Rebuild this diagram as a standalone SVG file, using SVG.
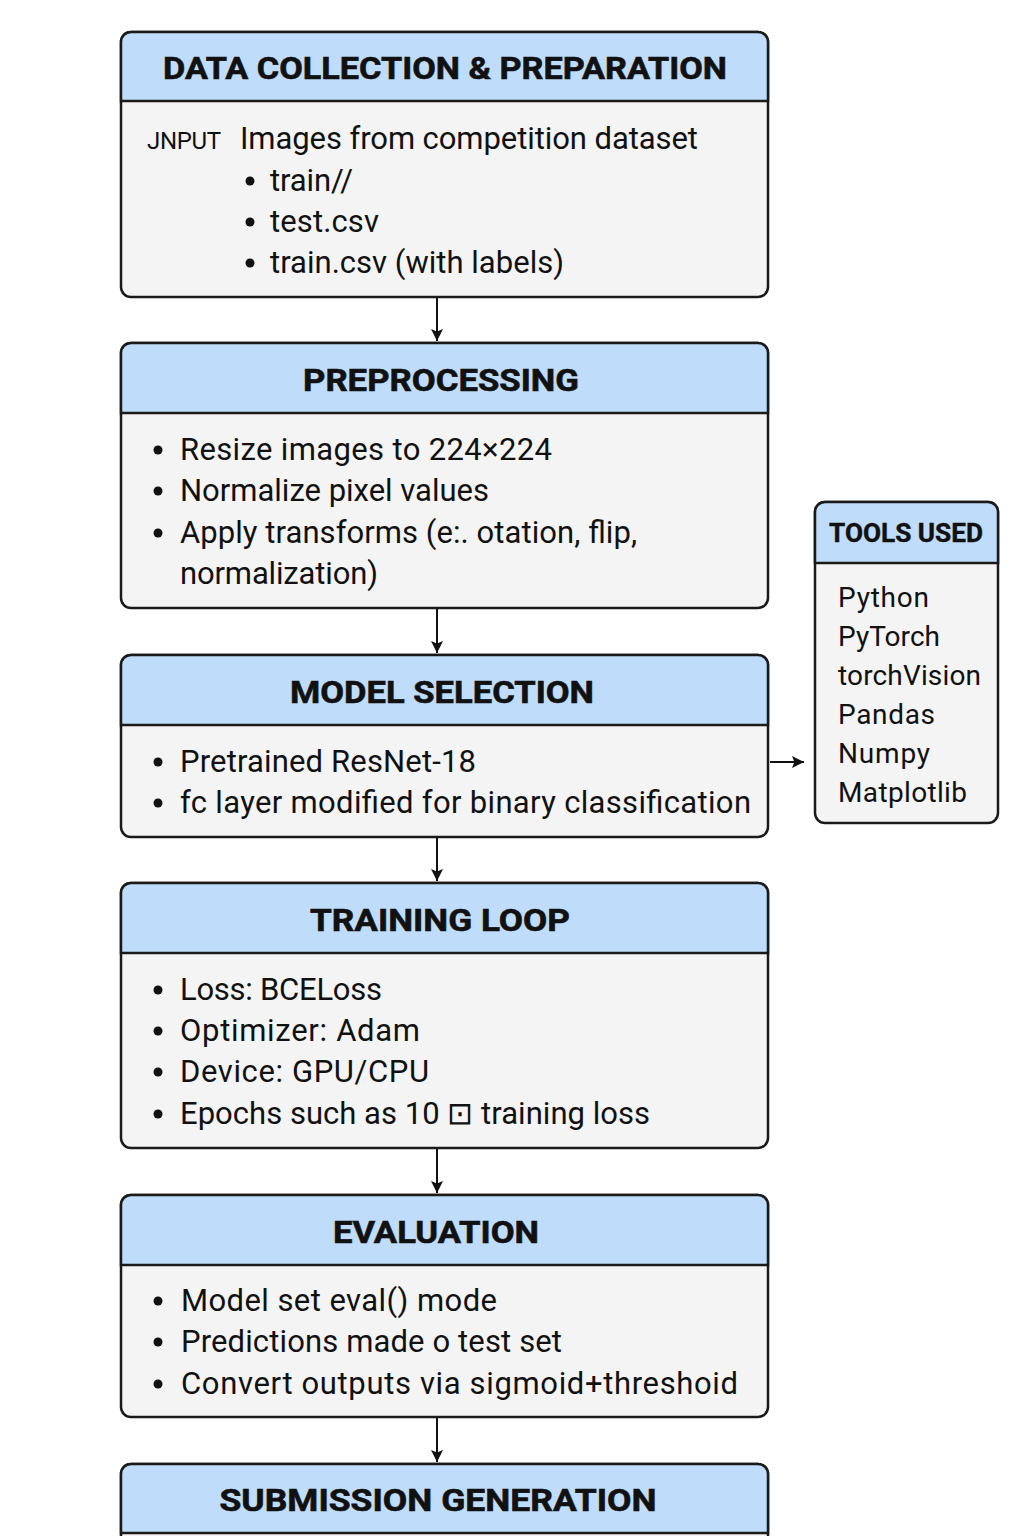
<svg xmlns="http://www.w3.org/2000/svg" width="1024" height="1536" viewBox="0 0 1024 1536">
  <style>
    .body { fill: #f4f4f4; stroke: #1a1a1a; stroke-width: 2.5; }
    .head { fill: #bfdcfb; stroke: #1a1a1a; stroke-width: 2.5; }
    .title { font-family: Roboto, "Liberation Sans", sans-serif; font-weight: bold; font-size: 32px; fill: #111; stroke: #111; stroke-width: 0.6; text-anchor: middle; }
    .tt { font-family: Roboto, "Liberation Sans", sans-serif; font-size: 31px; fill: #111; }
    .tl { font-family: Roboto, "Liberation Sans", sans-serif; font-size: 28px; fill: #111; }
    .lbl { font-family: Roboto, "Liberation Sans", sans-serif; font-size: 24px; fill: #111; }
    .conn { stroke: #111; stroke-width: 2; fill: none; marker-end: url(#arr); }
  </style>
  <defs>
    <marker id="arr" viewBox="0 0 10 10" refX="10" refY="5" markerWidth="12" markerHeight="12" orient="auto" markerUnits="userSpaceOnUse">
      <path d="M0,0 L10,5 L0,10 L2,5 Z" fill="#111"/>
    </marker>
  </defs>
  <rect width="1024" height="1536" fill="#ffffff"/>

  <!-- connectors -->
  <g id="connectors">
    <path class="conn" d="M437,297 V341"/>
    <path class="conn" d="M437,608 V653"/>
    <path class="conn" d="M437,837 V881"/>
    <path class="conn" d="M437,1148 V1193"/>
    <path class="conn" d="M437,1417 V1462"/>
    <path class="conn" d="M770,762 H804"/>
  </g>

  <!-- data collection -->
  <g id="data-collection">
    <rect class="body" x="121" y="32" width="647" height="265" rx="10"/>
    <path class="head" d="M121,101 V42 A10,10 0 0 1 131,32 H758 A10,10 0 0 1 768,42 V101 Z"/>
    <text class="title" x="445" y="79" textLength="564" lengthAdjust="spacingAndGlyphs">DATA COLLECTION &amp; PREPARATION</text>
    <text class="lbl" x="147" y="149" textLength="74">JNPUT</text>
    <text class="tt" x="240" y="149" textLength="458">Images from competition dataset</text>
    <circle cx="250" cy="181" r="4.5" fill="#111"/>
    <text class="tt" x="270" y="191" textLength="83">train//</text>
    <circle cx="250" cy="222" r="4.5" fill="#111"/>
    <text class="tt" x="270" y="232" textLength="109">test.csv</text>
    <circle cx="250" cy="263" r="4.5" fill="#111"/>
    <text class="tt" x="270" y="273" textLength="294">train.csv (with labels)</text>
  </g>

  <!-- preprocessing -->
  <g id="preprocessing">
    <rect class="body" x="121" y="343" width="647" height="265" rx="10"/>
    <path class="head" d="M121,413 V353 A10,10 0 0 1 131,343 H758 A10,10 0 0 1 768,353 V413 Z"/>
    <text class="title" x="441" y="391" textLength="276" lengthAdjust="spacingAndGlyphs">PREPROCESSING</text>
    <circle cx="158" cy="450" r="4.5" fill="#111"/>
    <text class="tt" x="180" y="460" textLength="372">Resize images to 224×224</text>
    <circle cx="158" cy="491" r="4.5" fill="#111"/>
    <text class="tt" x="180" y="501" textLength="309">Normalize pixel values</text>
    <circle cx="158" cy="533" r="4.5" fill="#111"/>
    <text class="tt" x="180" y="543" textLength="457">Apply transforms (e:. otation, flip,</text>
    <text class="tt" x="180" y="584" textLength="198">normalization)</text>
  </g>

  <!-- model selection -->
  <g id="model-selection">
    <rect class="body" x="121" y="655" width="647" height="182" rx="10"/>
    <path class="head" d="M121,725 V665 A10,10 0 0 1 131,655 H758 A10,10 0 0 1 768,665 V725 Z"/>
    <text class="title" x="442" y="703" textLength="304" lengthAdjust="spacingAndGlyphs">MODEL SELECTION</text>
    <circle cx="158" cy="762" r="4.5" fill="#111"/>
    <text class="tt" x="180" y="772" textLength="296">Pretrained ResNet-18</text>
    <circle cx="158" cy="803" r="4.5" fill="#111"/>
    <text class="tt" x="180" y="813" textLength="571">fc layer modified for binary classification</text>
  </g>

  <!-- training loop -->
  <g id="training-loop">
    <rect class="body" x="121" y="883" width="647" height="265" rx="10"/>
    <path class="head" d="M121,953 V893 A10,10 0 0 1 131,883 H758 A10,10 0 0 1 768,893 V953 Z"/>
    <text class="title" x="440" y="931" textLength="260" lengthAdjust="spacingAndGlyphs">TRAINING LOOP</text>
    <circle cx="158" cy="990" r="4.5" fill="#111"/>
    <text class="tt" x="180" y="1000" textLength="202">Loss: BCELoss</text>
    <circle cx="158" cy="1031" r="4.5" fill="#111"/>
    <text class="tt" x="180" y="1041" textLength="240">Optimizer: Adam</text>
    <circle cx="158" cy="1072" r="4.5" fill="#111"/>
    <text class="tt" x="180" y="1082" textLength="249">Device: GPU/CPU</text>
    <circle cx="158" cy="1114" r="4.5" fill="#111"/>
    <text class="tt" x="180" y="1124" textLength="470">Epochs such as 10 ⊡ training loss</text>
  </g>

  <!-- evaluation -->
  <g id="evaluation">
    <rect class="body" x="121" y="1195" width="647" height="222" rx="10"/>
    <path class="head" d="M121,1265 V1205 A10,10 0 0 1 131,1195 H758 A10,10 0 0 1 768,1205 V1265 Z"/>
    <text class="title" x="436" y="1243" textLength="206" lengthAdjust="spacingAndGlyphs">EVALUATION</text>
    <circle cx="158" cy="1301" r="4.5" fill="#111"/>
    <text class="tt" x="181" y="1311" textLength="316">Model set eval() mode</text>
    <circle cx="158" cy="1342" r="4.5" fill="#111"/>
    <text class="tt" x="181" y="1352" textLength="381">Predictions made o test set</text>
    <circle cx="158" cy="1384" r="4.5" fill="#111"/>
    <text class="tt" x="181" y="1394" textLength="557">Convert outputs via sigmoid+threshoid</text>
  </g>

  <!-- submission generation -->
  <g id="submission">
    <rect class="body" x="121" y="1464" width="647" height="100" rx="10"/>
    <path class="head" d="M121,1533 V1474 A10,10 0 0 1 131,1464 H758 A10,10 0 0 1 768,1474 V1533 Z"/>
    <text class="title" x="438" y="1511" textLength="437" lengthAdjust="spacingAndGlyphs">SUBMISSION GENERATION</text>
  </g>

  <!-- tools used -->
  <g id="tools-used">
    <rect class="body" x="815" y="502" width="183" height="321" rx="10"/>
    <path class="head" d="M815,563 V512 A10,10 0 0 1 825,502 H988 A10,10 0 0 1 998,512 V563 Z"/>
    <text class="title" style="font-size:25px;stroke-width:0.4" x="906" y="542" textLength="154" lengthAdjust="spacingAndGlyphs">TOOLS USED</text>
    <text class="tl" x="838" y="607" textLength="91">Python</text>
    <text class="tl" x="838" y="646" textLength="102">PyTorch</text>
    <text class="tl" x="838" y="685" textLength="143">torchVision</text>
    <text class="tl" x="838" y="724" textLength="97">Pandas</text>
    <text class="tl" x="838" y="763" textLength="92">Numpy</text>
    <text class="tl" x="838" y="802" textLength="129">Matplotlib</text>
  </g>
</svg>
